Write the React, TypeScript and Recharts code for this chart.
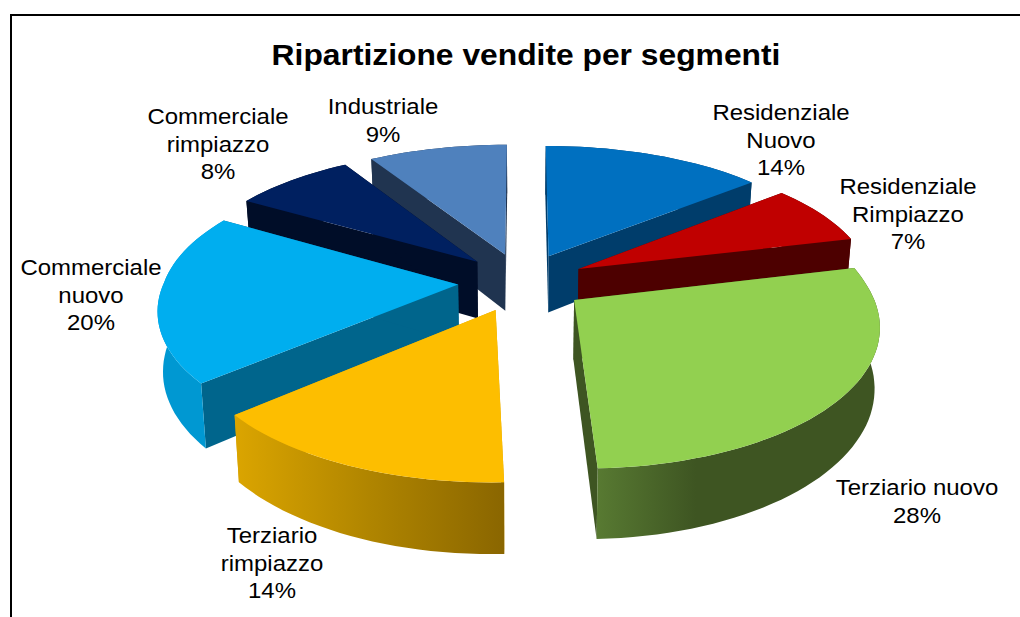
import { PieChart, Pie } from 'recharts';

const categories = [
  'Residenziale\nNuovo',
  'Residenziale\nRimpiazzo',
  'Terziario nuovo',
  'Terziario\nrimpiazzo',
  'Commerciale\nnuovo',
  'Commerciale\nrimpiazzo',
  'Industriale',
];
const shares = [14, 7.2, 28.2, 14.3, 19.8, 7.75, 8.75];
const topColors = ['#0070C0', '#C00000', '#92D050', '#FDBE00', '#00AEEF', '#002060', '#4F81BD'];
const sideColors = ['#003D6B', '#4D0000', '#3E5522', '#D9A200', '#00658C', '#000D28', '#203450'];
const rimFrom = ['#003D6B', '#4D0000', '#587A32', '#DBA500', '#0098D2', '#000D28', '#203450'];
const rimMid = ['#003D6B', '#4D0000', '#3E5522', '#B08500', '#0098D2', '#000D28', '#203450'];
const rimTo = ['#003D6B', '#4D0000', '#3E5522', '#8A6600', '#0098D2', '#000D28', '#203450'];
// back to front, so nearer slices cover the walls of the ones behind
const depthOrder = [6, 5, 0, 1, 4, 2, 3];
const labelAnchors = [
  [781, 120], [908, 194], [917, 495], [272, 543], [91, 275], [218, 124], [383, 114],
];

const tableData = categories.map((name, i) => ({ name, value: shares[i] }));

const CX = 522;
const CY = 282;
const RADIUS = 294;
const EXPLODE = 64;
const TILT = 0.46;
const PERSPECTIVE = 0.00054;
const PERSPECTIVE_BACK_X = 0.00043;
const WALL = 58;
const BASE_SHRINK = 0.985;

const rad = (deg: number) => (deg * Math.PI) / 180;

// plane coords (X right, Y towards the viewer) to screen, z = 0 top face, z = 1 bottom face
function project(x: number, y: number, z: number, cx: number, cy: number) {
  const f = 1 / (1 - PERSPECTIVE * y);
  const fx = y < 0 ? 1 / (1 - PERSPECTIVE_BACK_X * y) : f;
  const k = z ? BASE_SHRINK : 1;
  return [cx + x * fx * k, cy + TILT * y * f + z * WALL * f];
}

function toPath(points: number[][]) {
  return points.map((p, i) => `${i ? 'L' : 'M'}${p[0].toFixed(1)} ${p[1].toFixed(1)}`).join(' ') + ' Z';
}

function Slice3D(props: any) {
  const { cx, cy, outerRadius, startAngle, endAngle, midAngle, index } = props;
  // explode from the nominal slice direction
  const ox = EXPLODE * Math.cos(rad(midAngle));
  const oy = -EXPLODE * Math.sin(rad(midAngle));
  const steps = Math.ceil(Math.abs(endAngle - startAngle) / 2);
  const rim: number[][] = [];
  for (let s = 0; s <= steps; s++) {
    const a = startAngle + ((endAngle - startAngle) * s) / steps;
    rim.push([ox + outerRadius * Math.cos(rad(a)), oy - outerRadius * Math.sin(rad(a))]);
  }
  const pt = (p: number[], z: number) => project(p[0], p[1], z, cx, cy);
  const apex = [ox, oy];
  const first = rim[0];
  const last = rim[rim.length - 1];
  const topFace = [pt(apex, 0), ...rim.map((p) => pt(p, 0))];
  const startFace = [pt(apex, 0), pt(first, 0), pt(first, 1), pt(apex, 1)];
  const endFace = [pt(apex, 0), pt(last, 0), pt(last, 1), pt(apex, 1)];
  const band = [...rim.map((p) => pt(p, 0)), ...rim.slice().reverse().map((p) => pt(p, 1))];
  const gradId = `rim-${index}`;
  return (
    <g>
      <defs>
        <linearGradient id={gradId} x1="0" y1="0" x2="1" y2="0">
          <stop offset="0" stopColor={rimFrom[index]} />
          <stop offset={index === 2 ? '0.35' : '0.5'} stopColor={rimMid[index]} />
          <stop offset="1" stopColor={rimTo[index]} />
        </linearGradient>
      </defs>
      <path d={toPath(startFace)} fill={sideColors[index]} />
      <path d={toPath(endFace)} fill={sideColors[index]} />
      <path d={toPath(band)} fill={`url(#${gradId})`} />
      <path d={toPath(topFace)} fill={topColors[index]} />
    </g>
  );
}

function SliceLabel(props: any) {
  const { index, name, percent } = props;
  const [x, y] = labelAnchors[index];
  const lines = [...String(name).split('\n'), `${Math.round(percent * 100)}%`];
  return (
    <g transform={`translate(${x} ${y}) scale(1.09 1)`}>
      {lines.map((line, i) => (
        <text
          key={line}
          y={i * 27.7}
          textAnchor="middle"
          fontFamily="'Liberation Sans', Arial, sans-serif"
          fontSize={22}
          fill="#000"
        >
          {line}
        </text>
      ))}
    </g>
  );
}

export default function App() {
  return (
    <div style={{ position: 'absolute', left: 0, top: 0, width: 1020, height: 617, background: '#fff', overflow: 'hidden' }}>
      <div
        style={{
          position: 'absolute',
          left: 10,
          top: 14,
          width: 1010,
          height: 603,
          borderTop: '2px solid #000',
          borderLeft: '2px solid #000',
        }}
      />
      <PieChart
        width={1020}
        height={617}
        margin={{ top: 0, right: 0, bottom: 0, left: 0 }}
        style={{ position: 'absolute', left: 0, top: 0 }}
      >
        <text
          transform="translate(526 65) scale(1.06 1)"
          textAnchor="middle"
          fontFamily="'Liberation Sans', Arial, sans-serif"
          fontWeight="bold"
          fontSize={30}
          fill="#000"
        >
          Ripartizione vendite per segmenti
        </text>
        {depthOrder.map((slot) => (
          <Pie
            key={slot}
            data={tableData}
            dataKey="value"
            nameKey="name"
            cx={CX}
            cy={CY}
            outerRadius={RADIUS}
            startAngle={90}
            endAngle={-270}
            stroke="none"
            isAnimationActive={false}
            shape={(p: any) => (p.index === slot ? <Slice3D {...p} /> : <g />)}
          />
        ))}
        <Pie
          data={tableData}
          dataKey="value"
          nameKey="name"
          cx={CX}
          cy={CY}
          outerRadius={RADIUS}
          startAngle={90}
          endAngle={-270}
          stroke="none"
          isAnimationActive={false}
          shape={() => <g />}
          labelLine={false}
          label={SliceLabel}
        />
      </PieChart>
    </div>
  );
}
